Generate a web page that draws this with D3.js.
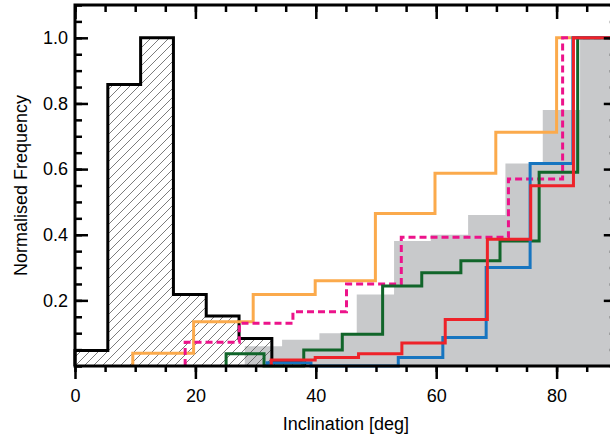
<!DOCTYPE html>
<html>
<head>
<meta charset="utf-8">
<script src="https://cdn.jsdelivr.net/npm/d3@7"></script>
<style>
  body { margin: 0; background: #fff; }
  svg text { font-family: 'Liberation Sans', Arial, sans-serif; fill: #000; }
</style>
</head>
<body>
<div class="chart"></div>
<script>
// Histogram bin edges (deg) and normalised frequencies
const blackEdges = [0, 5.45, 10.9, 16.35, 21.8, 27.25, 32.7, 38.15]
const blackValues = [0.047, 0.858, 1.0, 0.218, 0.152, 0.084, 0.012]

const grayEdges = [28.2, 34.4, 40.6, 46.8, 53.0, 59.1, 65.3, 71.5, 77.7, 83.9, 90]
const grayValues = [0.06, 0.08, 0.10, 0.218, 0.381, 0.40, 0.46, 0.617, 0.78, 1.0]

const orangeEdges = [9.6, 19.7, 29.6, 39.9, 49.9, 59.8, 69.9, 80.0, 90]
const orangeValues = [0.039, 0.135, 0.218, 0.26, 0.465, 0.587, 0.712, 1.0]

const pinkEdges = [18.3, 27.3, 36.2, 45.1, 54.2, 63.1, 72.0, 81.0, 90]
const pinkValues = [0.072, 0.13, 0.165, 0.25, 0.392, 0.392, 0.57, 1.0]

const greenEdges = [25.1, 31.4, 38.0, 44.4, 51.1, 57.6, 64.1, 70.6, 77.1, 83.5, 90]
const greenValues = [0.037, 0, 0.049, 0.097, 0.244, 0.284, 0.321, 0.381, 0.59, 1.0]

const blueEdges = [31.9, 39.2, 46.5, 53.7, 61.1, 68.3, 75.6, 82.7, 90]
const blueValues = [0.01, 0, 0, 0.026, 0.087, 0.30, 0.617, 1.0]

const redEdges = [32.6, 39.9, 47.1, 54.3, 61.5, 68.5, 75.7, 82.8, 90]
const redValues = [0.018, 0.026, 0.037, 0.07, 0.142, 0.386, 0.549, 1.0]

// Axis ticks
const xMajorTicks = [0, 20, 40, 60, 80]
const yMajorTicks = [0.2, 0.4, 0.6, 0.8, 1.0]

/** * ------------------ Set Up ------------------ ***/

const width = 610
const height = 434
const margin = { top: 5, left: 75, bottom: 68 }
const plotRight = 616.8 // right frame sits just off the canvas

const svg = d3.select('.chart').append('svg')
  .attr('width', width)
  .attr('height', height)

const x = d3.scaleLinear().domain([0, 90]).range([margin.left, plotRight])
const y = d3.scaleLinear().domain([0, 1.1]).range([height - margin.bottom, margin.top])

// hatching for the low inclination histogram
const defs = svg.append('defs')
defs.append('pattern')
  .attr('id', 'hatch')
  .attr('patternUnits', 'userSpaceOnUse')
  .attr('width', 9)
  .attr('height', 9)
  .append('path')
  .attr('d', 'M0,9 L9,0 M-1,1 L1,-1 M8,10 L10,8')
  .attr('stroke', '#444')
  .attr('stroke-width', 0.7)

// turn edges + values into a closed step outline
function stepPoints (edges, values) {
  const pts = [[edges[0], 0]]
  values.forEach((v, i) => pts.push([edges[i], v]))
  pts.push([edges[edges.length - 1], values[values.length - 1]])
  pts.push([edges[edges.length - 1], 0])
  return pts
}

const step = d3.line()
  .x(d => x(d[0]))
  .y(d => y(d[1]))
  .curve(d3.curveStepAfter)

/** * ------------------ Draw bars ---------------- ***/

svg.append('path')
  .attr('d', step(stepPoints(grayEdges, grayValues)))
  .attr('fill', '#c8c9cb')
  .attr('stroke', 'none')

svg.append('path')
  .attr('d', step(stepPoints(blackEdges, blackValues)))
  .attr('fill', 'url(#hatch)')
  .attr('stroke', 'none')

svg.append('path')
  .attr('d', step(stepPoints(blackEdges, blackValues)))
  .attr('fill', 'none')
  .attr('stroke', '#000')
  .attr('stroke-width', 3)

const series = [
  { edges: orangeEdges, values: orangeValues, color: '#fbaa4c', dash: null },
  { edges: pinkEdges, values: pinkValues, color: '#ec138a', dash: '7,4' },
  { edges: greenEdges, values: greenValues, color: '#11652a', dash: null },
  { edges: blueEdges, values: blueValues, color: '#1775c0', dash: null },
  { edges: redEdges, values: redValues, color: '#ee2229', dash: null }
]

series.forEach(s => {
  svg.append('path')
    .attr('d', step(stepPoints(s.edges, s.values)))
    .attr('fill', 'none')
    .attr('stroke', s.color)
    .attr('stroke-width', 3)
    .attr('stroke-dasharray', s.dash)
})

/** * ------------------ Draw axes ---------------- ***/

const x0 = margin.left
const yBase = y(0)
const yTop = margin.top
const minorX = d3.range(0, 91, 5)
const minorY = d3.range(0, 1.101, 0.05)

function styleAxis (g) {
  g.select('.domain').remove()
  g.selectAll('line').attr('stroke', '#000').attr('stroke-width', 2.5)
  g.selectAll('text').style('font-size', '18px')
}

// bottom (ticks outward)
svg.append('g').attr('transform', `translate(0,${yBase})`)
  .call(d3.axisBottom(x).tickValues(minorX).tickSize(6).tickFormat(''))
  .call(styleAxis)
svg.append('g').attr('transform', `translate(0,${yBase})`)
  .call(d3.axisBottom(x).tickValues(xMajorTicks).tickSize(13).tickPadding(10).tickFormat(d3.format('d')))
  .call(styleAxis)

// top (ticks inward)
svg.append('g').attr('transform', `translate(0,${yTop})`)
  .call(d3.axisTop(x).tickValues(minorX).tickSize(-7).tickFormat(''))
  .call(styleAxis)
svg.append('g').attr('transform', `translate(0,${yTop})`)
  .call(d3.axisTop(x).tickValues(xMajorTicks).tickSize(-14).tickFormat(''))
  .call(styleAxis)

// left (ticks inward)
svg.append('g').attr('transform', `translate(${x0},0)`)
  .call(d3.axisLeft(y).tickValues(minorY).tickSize(-7).tickFormat(''))
  .call(styleAxis)
svg.append('g').attr('transform', `translate(${x0},0)`)
  .call(d3.axisLeft(y).tickValues(yMajorTicks).tickSize(-13).tickPadding(7).tickFormat(d3.format('.1f')))
  .call(styleAxis)

// right (ticks inward)
svg.append('g').attr('transform', `translate(${plotRight},0)`)
  .call(d3.axisRight(y).tickValues(minorY).tickSize(-7).tickFormat(''))
  .call(styleAxis)
svg.append('g').attr('transform', `translate(${plotRight},0)`)
  .call(d3.axisRight(y).tickValues(yMajorTicks).tickSize(-13).tickFormat(''))
  .call(styleAxis)

// frame
svg.append('rect')
  .attr('x', x0)
  .attr('y', yTop)
  .attr('width', plotRight - x0)
  .attr('height', yBase - yTop)
  .attr('fill', 'none')
  .attr('stroke', '#000')
  .attr('stroke-width', 3)

// axis titles
svg.append('text')
  .attr('x', (x0 + plotRight) / 2)
  .attr('y', 430)
  .attr('text-anchor', 'middle')
  .style('font-size', '18px')
  .text('Inclination [deg]')

svg.append('text')
  .attr('transform', `translate(27,${(yTop + yBase) / 2}) rotate(-90)`)
  .attr('text-anchor', 'middle')
  .style('font-size', '18px')
  .text('Normalised Frequency')
</script>
</body>
</html>
